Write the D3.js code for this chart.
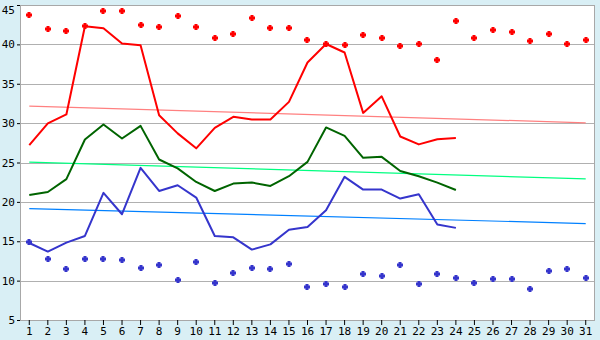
<!DOCTYPE html>
<html><head><meta charset="utf-8">
<script src="https://cdn.jsdelivr.net/npm/d3@7"></script>
<style>html,body{margin:0;padding:0;background:#d9eff5;}svg{display:block;}</style>
</head><body>
<svg id="c" width="600" height="340"></svg>
<script>
const days = d3.range(1, 32).map(String);
const yTicks = [5,10,15,20,25,30,35,40,45];
const redPoints = [43.7,41.9,41.65,42.3,44.3,44.3,42.4,42.16,43.56,42.16,40.76,41.27,43.3,42.03,42.03,40.5,40.0,39.87,41.14,40.76,39.74,40.0,37.97,42.92,40.76,41.78,41.52,40.37,41.27,40.0,40.5];
const bluePoints = [14.96,12.8,11.53,12.8,12.8,12.67,11.65,12.03,10.13,12.41,9.75,11.02,11.65,11.53,12.16,9.24,9.62,9.24,10.89,10.64,12.03,9.62,10.89,10.38,9.75,10.25,10.25,8.98,11.27,11.53,10.38];
const redLine = [27.2,29.96,31.1,42.3,42.05,40.1,39.9,31.0,28.7,26.8,29.4,30.8,30.45,30.45,32.7,37.7,40.05,38.97,31.3,33.4,28.3,27.3,27.96,28.1];
const greenLine = [20.88,21.26,22.88,27.92,29.83,28.05,29.65,25.38,24.25,22.53,21.38,22.32,22.45,22.02,23.26,25.08,29.45,28.38,25.59,25.72,23.93,23.26,22.45,21.51];
const blueLine = [14.78,13.69,14.83,15.67,21.14,18.43,24.32,21.39,22.11,20.55,15.67,15.5,13.94,14.6,16.47,16.8,18.94,23.18,21.56,21.56,20.42,20.97,17.12,16.7];
const redTrend = [32.17,30.04];
const greenTrend = [25.06,22.92];
const blueTrend = [19.15,17.25];

const svg = d3.select("#c");
const L=20, R=595, T=5, B=320;
const x = d3.scaleBand().domain(days).range([L,R]);
const cx = d => x(d) + x.bandwidth()/2;
const y = d3.scaleLinear().domain([5,45]).range([B,T]);

svg.append("rect").attr("width",600).attr("height",340).attr("fill","#d9eff5");
svg.append("rect").attr("x",L).attr("y",T).attr("width",R-L).attr("height",B-T).attr("fill","#fff");

// grid
svg.append("g").selectAll("line").data(yTicks).join("line")
  .attr("x1",L).attr("x2",R).attr("y1",d=>Math.round(y(d))+0.5).attr("y2",d=>Math.round(y(d))+0.5)
  .attr("stroke","#b0b0b0").attr("stroke-width",1);

// trends
function trend(vals,color){
  svg.append("line").attr("x1",cx(days[0])).attr("x2",cx(days[days.length-1]))
    .attr("y1",y(vals[0])).attr("y2",y(vals[1])).attr("stroke",color).attr("stroke-width",1.2);
}
trend(redTrend,"#ff8080");
trend(greenTrend,"#00ff80");
trend(blueTrend,"#0080ff");

// lines
function line(vals,color){
  svg.append("path").datum(vals)
    .attr("d", d3.line().x((d,i)=>cx(days[i])).y(d=>y(d)))
    .attr("fill","none").attr("stroke",color).attr("stroke-width",2).attr("stroke-linejoin","round");
}
line(redLine,"#ff0000");
line(greenLine,"#006400");
line(blueLine,"#3535cc");

// markers
const mk = "M-1.5,-3L1.5,-3L1.5,-1.5L3,-1.5L3,1.5L1.5,1.5L1.5,3L-1.5,3L-1.5,1.5L-3,1.5L-3,-1.5L-1.5,-1.5Z";
function pts(vals,color){
  svg.append("g").selectAll("path").data(vals).join("path")
    .attr("d",mk).attr("transform",(d,i)=>`translate(${Math.round(cx(days[i]))},${Math.round(y(d))})`)
    .attr("fill",color);
}
pts(redPoints,"#ff0000");
pts(bluePoints,"#3535cc");

// border
svg.append("rect").attr("x",L+0.5).attr("y",T+0.5).attr("width",R-L-1).attr("height",B-T).attr("fill","none").attr("stroke","#a8a8a8");

// axes
const font = "'DejaVu Sans Mono', monospace";
const ya = svg.append("g").attr("transform",`translate(${L},0)`)
  .call(d3.axisLeft(y).tickValues(yTicks).tickSize(3).tickPadding(2).tickFormat(d3.format("d")));
ya.select(".domain").remove();
ya.selectAll("line").attr("stroke","#000");
ya.selectAll("text").attr("font-family",font).attr("font-size",11).attr("fill","#000")
  .attr("dy", d => d === 45 ? "0.75em" : "0.32em");

const xa = svg.append("g").attr("transform",`translate(0,${B})`)
  .call(d3.axisBottom(x).tickSize(5).tickPadding(2));
xa.select(".domain").remove();
xa.selectAll("line").attr("stroke","#000");
xa.selectAll("text").attr("font-family",font).attr("font-size",11).attr("fill","#000");
</script>
</body></html>
